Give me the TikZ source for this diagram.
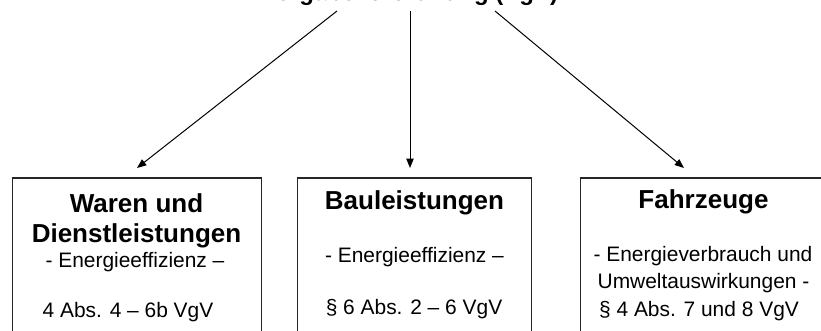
\documentclass[tikz,border=0pt]{standalone}
\usepackage{fontspec}
\setmainfont{Liberation Sans}
\usetikzlibrary{arrows.meta,calc}
\begin{document}
\begin{tikzpicture}[x=0.75pt,y=-0.75pt,
  boxframe/.style={draw=black!85,line width=0.9pt,anchor=north west,inner sep=0pt},
  titlefont/.style={anchor=base,inner sep=0pt,font=\bfseries\fontsize{19.5}{22}\selectfont},
  bodyfont/.style={anchor=base,inner sep=0pt,font=\fontsize{15.7}{19}\selectfont},
  arr/.style={draw=black,line width=0.75pt,-{Triangle[length=7pt,width=5.5pt]}}
]
\useasboundingbox (0,0) rectangle (821,331);

% title (cut off at top in the reference)
\node[anchor=base,inner sep=0pt,font=\bfseries\fontsize{18}{20}\selectfont] (top) at (410,0.3) {Vergabeverordnung (VgV)};

% boxes
\node[boxframe,minimum width=187pt,minimum height=130pt] (b1) at (11.5,177.5) {};
\node[boxframe,minimum width=175.5pt,minimum height=130pt] (b2) at (297,177.5) {};
\node[boxframe,minimum width=185pt,minimum height=130pt] (b3) at (580,177.5) {};

% arrow targets
\coordinate (t1) at (137,168);
\coordinate (t2) at (410,168);
\coordinate (t3) at (684,168);

\draw[arr] ($(top.base)+(-73,10.7)$) -- (t1);
\draw[arr] ($(top.base)+(0,10.7)$) -- (t2);
\draw[arr] ($(top.base)+(85,10.7)$) -- (t3);

% left box texts
\node[titlefont] (l1) at (136.5,213) {Waren und};
\node[titlefont] (l2) at (136.5,243) {Dienstleistungen};
\node[bodyfont] (l3) at (135,268) {- Energieeffizienz –};
\node[bodyfont] (l4) at (128,317) {4 Abs. 4 – 6b VgV};

% middle box texts
\node[titlefont] (m1) at (414.5,210) {Bauleistungen};
\node[bodyfont] (m2) at (414.5,263) {- Energieeffizienz –};
\node[bodyfont] (m3) at (414,315) {§ 6 Abs. 2 – 6 VgV};

% right box texts
\node[titlefont] (r1) at (703.5,209) {Fahrzeuge};
\node[bodyfont] (r2) at (703,262) {- Energieverbrauch und};
\node[bodyfont] (r3) at (703.5,289) {Umweltauswirkungen -};
\node[bodyfont] (r4) at (699,316) {§ 4 Abs. 7 und 8 VgV};
\end{tikzpicture}
\end{document}
